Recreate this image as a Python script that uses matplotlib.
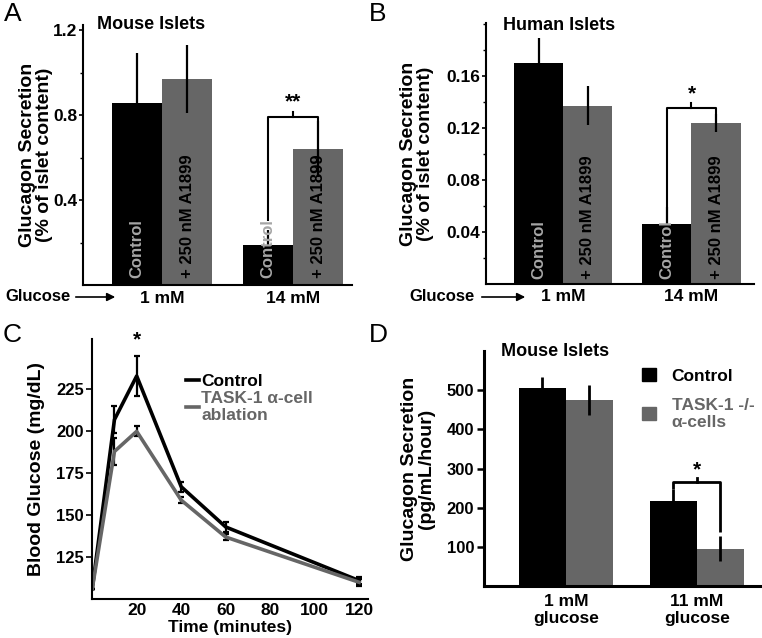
import numpy as np
import matplotlib
matplotlib.use('Agg')
import matplotlib.pyplot as plt
from matplotlib.lines import Line2D
from matplotlib.patches import Patch

plt.rcParams['font.family'] = ['Liberation Sans', 'DejaVu Sans']
plt.rcParams['font.weight'] = 'bold'
plt.rcParams['axes.labelweight'] = 'bold'

# panel A - mouse islets, % of islet content
a_groups = ['1 mM', '14 mM']
a_ctrl = [0.855, 0.19]
a_ctrl_err = [0.235, 0.07]
a_drug = [0.97, 0.64]
a_drug_err = [0.16, 0.13]

# panel B - human islets
b_groups = ['1 mM', '14 mM']
b_ctrl = [0.170, 0.046]
b_ctrl_err = [0.019, 0.013]
b_drug = [0.137, 0.124]
b_drug_err = [0.015, 0.007]

# panel C - blood glucose time course
c_time = [0, 10, 20, 40, 60, 120]
c_ctrl = [106, 207, 233, 167, 143, 111]
c_ctrl_err = [0, 8, 12, 3, 3, 2]
c_ko = [106, 188, 200, 159, 137, 110]
c_ko_err = [0, 8, 3, 2, 2, 2]

# panel D - glucagon pg/mL/hour
d_groups = ['1 mM\nglucose', '11 mM\nglucose']
d_ctrl = [505, 218]
d_ctrl_err = [30, 30]
d_ko = [475, 95]
d_ko_err = [38, 32]

BLACK = '#000000'
GREY = '#666666'
LIGHT = '#a6a6a6'

fig = plt.figure(figsize=(7.62, 6.38), dpi=100)


def bracket(ax, x1, x2, y, y1_low, y2_low, nub, star, star_y, lw=1.5):
    ax.plot([x1, x1, x2, x2], [y1_low, y, y, y2_low], color='black', lw=lw,
            solid_capstyle='butt', clip_on=False, zorder=1)
    xm = (x1 + x2) / 2
    ax.plot([xm, xm], [y, y + nub], color='black', lw=lw, clip_on=False)
    ax.text(xm, star_y, star, ha='center', va='center', fontsize=15)


def islet_panel(ax, groups, ctrl, ctrl_err, drug, drug_err, w, ymax, text_y):
    x = np.arange(len(groups))
    ax.bar(x - w / 2, ctrl, w, color=BLACK)
    ax.bar(x + w / 2, drug, w, color=GREY)
    ax.errorbar(x - w / 2, ctrl, yerr=[np.zeros(len(ctrl)), ctrl_err], fmt='none',
                ecolor='black', elinewidth=1.6, capsize=0)
    ax.errorbar(x + w / 2, drug, yerr=drug_err, fmt='none',
                ecolor='black', elinewidth=1.6, capsize=0)
    for xi in x:
        ax.text(xi - w / 2, text_y, 'Control', rotation=90, ha='center', va='bottom',
                color=LIGHT, fontsize=12, zorder=5)
        ax.text(xi + w / 2, text_y, '+ 250 nM A1899', rotation=90, ha='center',
                va='bottom', color='black', fontsize=12)
    ax.set_xticks(x)
    ax.set_xticklabels(groups, fontsize=12.5)
    ax.tick_params(axis='x', length=0, pad=4)
    ax.set_ylim(0, ymax)
    for s in ['top', 'right']:
        ax.spines[s].set_visible(False)
    for s in ['left', 'bottom']:
        ax.spines[s].set_linewidth(1.5)
    ax.tick_params(axis='y', labelsize=12.5, length=3, width=1.2, pad=1)
    ax.tick_params(axis='y', which='minor', length=2, width=1.0)
    return x


# ---- A ----
axA = fig.add_axes([0.109, 0.553, 0.353, 0.408])
w = 0.382
x = islet_panel(axA, a_groups, a_ctrl, a_ctrl_err, a_drug, a_drug_err, w, 1.224, 0.033)
axA.set_xlim(-0.603, 1.45)
axA.set_yticks([0.4, 0.8, 1.2])
axA.set_yticklabels(['0.4', '0.8', '1.2'])
axA.set_yticks([0.2, 0.6, 1.0], minor=True)
axA.set_ylabel('Glucagon Secretion\n(% of islet content)', fontsize=14, linespacing=1.0)
axA.yaxis.set_label_coords(-0.11, 0.5)
axA.text(0.05, 1.0, 'Mouse Islets', transform=axA.transAxes, fontsize=13, va='center')
bracket(axA, x[1] - w / 2, x[1] + w / 2, 0.79, 0.30, a_drug[1] + a_drug_err[1],
        0.025, '**', 0.86)

# ---- B ----
axB = fig.add_axes([0.638, 0.555, 0.352, 0.409])
w = 0.383
x = islet_panel(axB, b_groups, b_ctrl, b_ctrl_err, b_drug, b_drug_err, w, 0.2008, 0.004)
axB.set_xlim(-0.60, 1.49)
axB.set_yticks([0.04, 0.08, 0.12, 0.16])
axB.set_yticklabels(['0.04', '0.08', '0.12', '0.16'])
axB.set_yticks([0.02, 0.06, 0.10, 0.14, 0.18, 0.20], minor=True)
axB.set_ylabel('Glucagon Secretion\n(% of islet content)', fontsize=14, linespacing=1.0)
axB.yaxis.set_label_coords(-0.195, 0.5)
axB.text(0.063, 0.99, 'Human Islets', transform=axB.transAxes, fontsize=13, va='center')
bracket(axB, x[1] - w / 2, x[1] + w / 2, 0.135, b_ctrl[1] + b_ctrl_err[1],
        b_drug[1] + b_drug_err[1], 0.004, '*', 0.146)

# Glucose arrows
for fx_text, fx0, fx1 in [(5, 73, 118), (409, 479, 528)]:
    fig.text(fx_text / 762, 1 - 297 / 638, 'Glucose', fontsize=12, ha='left', va='center')
    fig.add_artist(matplotlib.patches.FancyArrowPatch(
        (fx0 / 762, 1 - 297 / 638), (fx1 / 762, 1 - 297 / 638),
        transform=fig.transFigure, arrowstyle='-|>', mutation_scale=12,
        color='black', lw=1.2))

# ---- C ----
axC = fig.add_axes([0.121, 0.061, 0.362, 0.4075])
axC.errorbar(c_time, c_ctrl, yerr=c_ctrl_err, color=BLACK, lw=2.6, elinewidth=1.6,
             capsize=2.5, capthick=1.6, label='Control')
axC.errorbar(c_time, c_ko, yerr=c_ko_err, color=GREY, lw=2.6, elinewidth=1.6,
             ecolor='black', capsize=2.5, capthick=1.6,
             label='TASK-1 α-cell\nablation')
axC.set_xlim(0, 124)
axC.set_ylim(100, 255)
axC.set_xticks([20, 40, 60, 80, 100, 120])
axC.set_yticks([125, 150, 175, 200, 225])
axC.tick_params(axis='x', length=0, labelsize=12.5, pad=3)
axC.tick_params(axis='y', length=4, width=1.2, labelsize=12, pad=2)
for s in ['top', 'right']:
    axC.spines[s].set_visible(False)
for s in ['left', 'bottom']:
    axC.spines[s].set_linewidth(1.5)
axC.set_xlabel('Time (minutes)', fontsize=12.5, labelpad=1)
axC.set_ylabel('Blood Glucose (mg/dL)', fontsize=14)
axC.yaxis.set_label_coords(-0.17, 0.5)
axC.text(c_time[2], c_ctrl[2] + c_ctrl_err[2] + 4, '*', ha='center', va='bottom', fontsize=15)
handles = [Line2D([], [], color=BLACK, lw=2.6), Line2D([], [], color=GREY, lw=2.6)]
axC.legend(handles, ['Control', 'TASK-1 α-cell\nablation'], loc='upper left',
           bbox_to_anchor=(0.31, 0.9), frameon=False, fontsize=12.5,
           handlelength=0.7, handletextpad=0.15, labelspacing=0.1,
           labelcolor=[BLACK, GREY], borderpad=0)

# ---- D ----
axD = fig.add_axes([0.635, 0.0815, 0.3635, 0.368])
w = 0.36
x = np.arange(len(d_groups))
axD.bar(x - w / 2, d_ctrl, w, color=BLACK)
axD.bar(x + w / 2, d_ko, w, color=GREY)
axD.errorbar(x - w / 2, d_ctrl, yerr=d_ctrl_err, fmt='none', ecolor='black',
             elinewidth=2.0, capsize=0)
axD.errorbar(x + w / 2, d_ko, yerr=d_ko_err, fmt='none', ecolor='black',
             elinewidth=2.0, capsize=0)
axD.set_xlim(-0.626, 1.489)
axD.set_ylim(0, 600)
axD.set_yticks([100, 200, 300, 400, 500])
axD.set_xticks(x)
axD.set_xticklabels(d_groups, fontsize=12.5, linespacing=1.1)
axD.tick_params(axis='x', length=0, pad=6)
axD.tick_params(axis='y', length=5, width=1.8, labelsize=12, pad=2)
for s in ['top', 'right']:
    axD.spines[s].set_visible(False)
for s in ['left', 'bottom']:
    axD.spines[s].set_linewidth(2.2)
axD.set_ylabel('Glucagon Secretion\n(pg/mL/hour)', fontsize=14, linespacing=1.0)
axD.yaxis.set_label_coords(-0.175, 0.5)
axD.text(0.061, 1.0, 'Mouse Islets', transform=axD.transAxes, fontsize=13, va='center')
bracket(axD, x[1] - w / 2, x[1] + w / 2, 267, d_ctrl[1] + d_ctrl_err[1], 138,
        10, '*', 298, lw=2.0)
dh = [Patch(color=BLACK), Patch(color=GREY)]
axD.legend(dh, ['Control', 'TASK-1 -/-\nα-cells'], loc='upper left',
           bbox_to_anchor=(0.54, 0.965), frameon=False, fontsize=12.5,
           handlelength=0.8, handleheight=0.8, handletextpad=0.9, labelspacing=0.8,
           labelcolor=[BLACK, GREY], borderpad=0)

# panel letters
for lbl, fx, fy in [('A', 4, 14), ('B', 369, 14), ('C', 3, 335), ('D', 369, 335)]:
    fig.text(fx / 762, 1 - fy / 638, lbl, fontsize=19, fontweight='normal',
             ha='left', va='center')

fig.savefig('out.png', dpi=100)
